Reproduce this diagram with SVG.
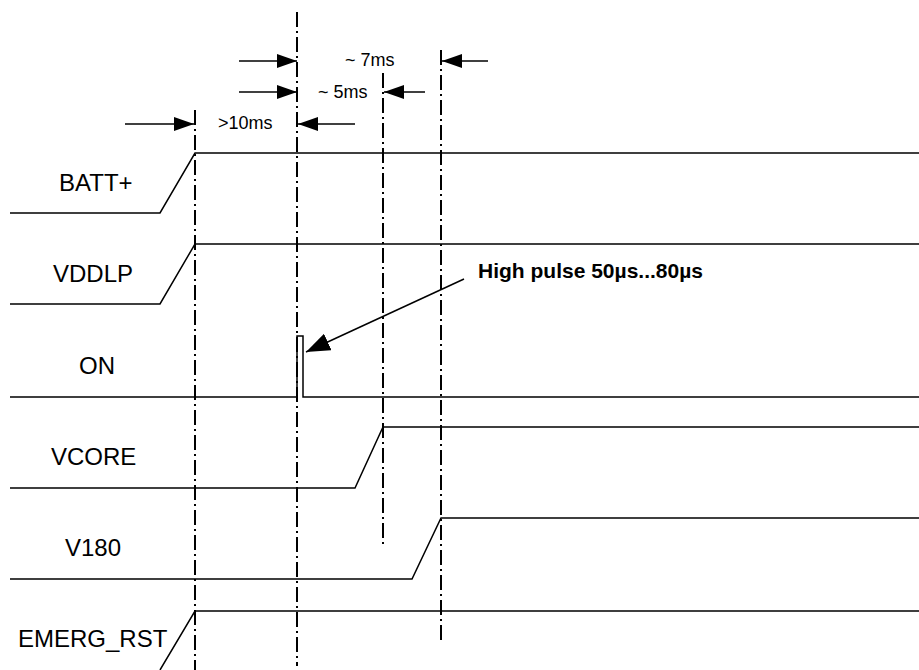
<svg xmlns="http://www.w3.org/2000/svg" width="919" height="670" viewBox="0 0 919 670">
<style>
.sig{fill:none;stroke:#000;stroke-width:1.5}
.vl{fill:none;stroke:#000;stroke-width:2;stroke-dasharray:15 4 2 4}
.dim{fill:none;stroke:#000;stroke-width:1.5}
.lbl{font-family:"Liberation Sans",Arial,sans-serif;font-size:24px;fill:#000}
.dt{font-family:"Liberation Sans",Arial,sans-serif;font-size:18px;fill:#000}
.note{font-family:"Liberation Sans",Arial,sans-serif;font-size:21px;font-weight:bold;fill:#000}
</style>
<defs>
<marker id="ah" markerUnits="userSpaceOnUse" markerWidth="20" markerHeight="14" refX="20" refY="7" orient="auto">
<path d="M0,0 L20,7 L0,14 z" fill="#000"/>
</marker>
<marker id="ah2" markerUnits="userSpaceOnUse" markerWidth="24" markerHeight="18" refX="24" refY="9" orient="auto">
<path d="M0,0 L24,9 L0,18 z" fill="#000"/>
</marker>
</defs>
<rect width="919" height="670" fill="#fff"/>
<g id="timing-lines">
<line class="vl" x1="195" y1="110" x2="195" y2="670"/>
<line class="vl" x1="297" y1="12" x2="297" y2="666"/>
<line class="vl" x1="383" y1="73" x2="383" y2="548"/>
<line class="vl" x1="441" y1="50" x2="441" y2="640"/>
</g>
<g id="batt">
<path class="sig" d="M10,213 H160 L195,153 H919"/>
<text class="lbl" x="59" y="191">BATT+</text>
</g>
<g id="vddlp">
<path class="sig" d="M10,304 H160 L195,244 H919"/>
<text class="lbl" x="53" y="282">VDDLP</text>
</g>
<g id="on">
<path class="sig" d="M10,397 H297 V336 H303 V397 H919"/>
<text class="lbl" x="79" y="374">ON</text>
</g>
<g id="vcore">
<path class="sig" d="M10,488 H355 L383,427 H919"/>
<text class="lbl" x="51" y="465">VCORE</text>
</g>
<g id="v180">
<path class="sig" d="M10,579 H412 L441,518 H919"/>
<text class="lbl" x="65" y="556">V180</text>
</g>
<g id="emerg_rst">
<path class="sig" d="M160,670 L195,611 H919"/>
<text class="lbl" x="18" y="647">EMERG_RST</text>
</g>
<g id="note">
<text class="note" x="478" y="278">High pulse 50µs...80µs</text>
</g>
<g id="connectors">
<line class="dim" x1="239" y1="61" x2="297" y2="61" marker-end="url(#ah)"/>
<line class="dim" x1="488" y1="61" x2="442" y2="61" marker-end="url(#ah)"/>
<line class="dim" x1="239" y1="92" x2="297" y2="92" marker-end="url(#ah)"/>
<line class="dim" x1="425" y1="92" x2="384" y2="92" marker-end="url(#ah)"/>
<line class="dim" x1="125" y1="124" x2="194" y2="124" marker-end="url(#ah)"/>
<line class="dim" x1="355" y1="124" x2="298" y2="124" marker-end="url(#ah)"/>
<line class="dim" x1="464" y1="279" x2="306" y2="352" stroke-width="2" marker-end="url(#ah2)"/>
</g>
<g id="dim-labels">
<text class="dt" x="345" y="66">~ 7ms</text>
<text class="dt" x="318" y="98">~ 5ms</text>
<text class="dt" x="218" y="129">&gt;10ms</text>
</g>
</svg>
